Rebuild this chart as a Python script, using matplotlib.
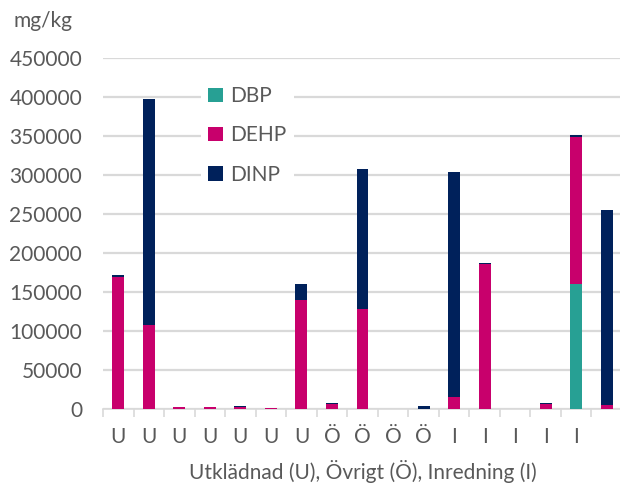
import matplotlib
matplotlib.use("Agg")
import matplotlib.pyplot as plt
from matplotlib.patches import Patch
import numpy as np

plt.rcParams['font.family'] = ['Lato', 'DejaVu Sans']

categories = ["U", "U", "U", "U", "U", "U", "U", "Ö", "Ö", "Ö", "Ö", "I", "I", "I", "I", "I", ""]
DBP = [0, 0, 0, 0, 0, 0, 0, 0, 0, 0, 0, 0, 0, 0, 0, 160500, 0]
DEHP = [169000, 108000, 2000, 2000, 3000, 1500, 139500, 6000, 128800, 0, 0, 15000, 185500, 0, 6000, 188000, 5500]
DINP = [3000, 289600, 0, 0, 1300, 0, 20900, 1700, 179400, 0, 4200, 289400, 2000, 0, 1700, 3500, 250000]
series_names = ["DBP", "DEHP", "DINP"]
colors = ["#27a094", "#c8006c", "#00215b"]
yticks = [0, 50000, 100000, 150000, 200000, 250000, 300000, 350000, 400000, 450000]

text_color = "#595959"
grid_color = "#d9d9d9"
fs = 15

fig = plt.figure(figsize=(6.2, 4.83), dpi=100)
ax = fig.add_axes([103/620, 1-409/483, 519/620, (409-58.3)/483])

x = np.arange(len(categories))
bottom = np.zeros(len(categories))
for name, vals, c in zip(series_names, [DBP, DEHP, DINP], colors):
    v = np.array(vals, dtype=float)
    ax.bar(x, v, width=0.39, bottom=bottom, color=c, zorder=3, label=name)
    bottom += v

ax.set_xlim(-0.5, len(categories) - 0.5)
ax.set_ylim(0, 450000)
ax.set_yticks(yticks)
ax.set_yticklabels([str(t) for t in yticks])
ax.yaxis.grid(True, color=grid_color, linewidth=1.6, zorder=0)
ax.set_axisbelow(True)

for s in ["top", "right", "left"]:
    ax.spines[s].set_visible(False)
ax.spines["bottom"].set_color(grid_color)
ax.spines["bottom"].set_linewidth(1.2)

ax.tick_params(axis="y", length=0, pad=15, labelsize=fs, labelcolor=text_color)
ax.set_xticks(x)
ax.set_xticklabels(categories)
ax.tick_params(axis="x", which="major", length=0, pad=13, labelsize=fs, labelcolor=text_color)
ax.set_xticks(np.arange(-0.5, len(categories), 1.0), minor=True)
ax.tick_params(axis="x", which="minor", length=6, width=1.2, color=grid_color)

ax.set_xlabel("Utklädnad (U), Övrigt (Ö), Inredning (I)", fontsize=fs, color=text_color, labelpad=9)

fig.text(13/620, 1-21/483, "mg/kg", fontsize=fs, color=text_color, va="center", ha="left")

handles = [Patch(facecolor=c, edgecolor="none") for c in colors]
leg = ax.legend(handles, series_names, loc="upper left",
                bbox_to_anchor=(201/620, 1-79/483), bbox_transform=fig.transFigure,
                frameon=True, facecolor="white", edgecolor="none", framealpha=1,
                fontsize=fs, labelcolor=text_color, handlelength=0.7, handleheight=0.7,
                handletextpad=0.35, labelspacing=0.92, borderaxespad=0, borderpad=0.35)
leg.set_zorder(5)

fig.savefig("out.png", dpi=100)
